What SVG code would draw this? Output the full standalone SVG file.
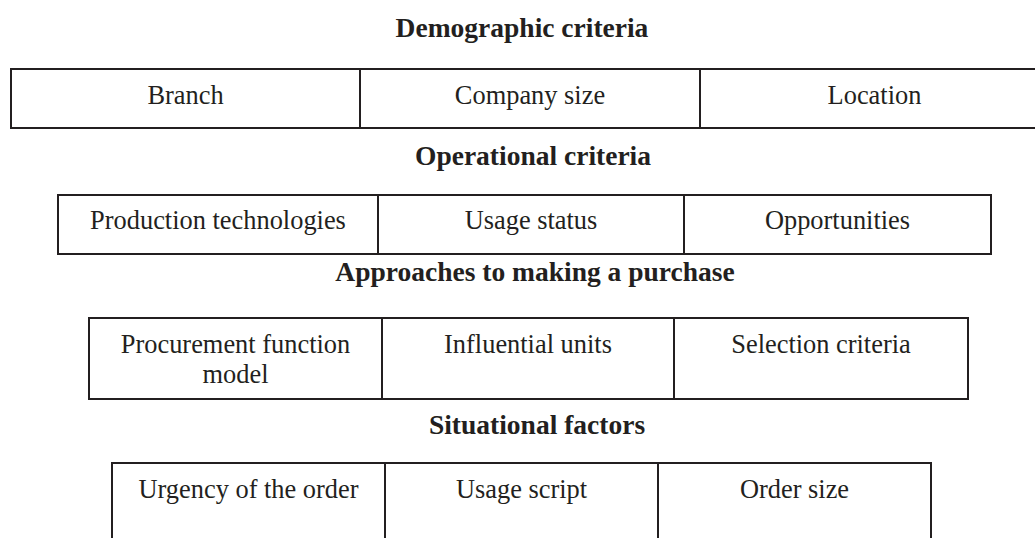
<svg xmlns="http://www.w3.org/2000/svg" width="1035" height="538" viewBox="0 0 1035 538">
  <style>
    .bg { fill: #ffffff; }
    .cell { fill: #ffffff; stroke: #231f20; stroke-width: 2; }
    .head { font-family: "Liberation Serif", "Times New Roman", serif; font-weight: bold; font-size: 27.5px; fill: #231f20; text-anchor: middle; }
    .lbl { font-family: "Liberation Serif", "Times New Roman", serif; font-size: 26.4px; fill: #231f20; text-anchor: middle; }
  </style>
  <rect class="bg" x="0" y="0" width="1035" height="538"/>

  <!-- Section headings -->
  <g id="headings">
    <text class="head" x="522" y="37">Demographic criteria</text>
    <text class="head" x="533" y="165">Operational criteria</text>
    <text class="head" x="535" y="281">Approaches to making a purchase</text>
    <text class="head" x="537" y="434">Situational factors</text>
  </g>

  <!-- Row 1: demographic criteria (open on the right) -->
  <g id="branch">
    <rect class="cell" x="11" y="69" width="349" height="59"/>
    <text class="lbl" x="185.5" y="104">Branch</text>
  </g>
  <g id="company-size">
    <rect class="cell" x="360" y="69" width="340" height="59"/>
    <text class="lbl" x="530" y="104">Company size</text>
  </g>
  <g id="location">
    <rect class="cell" x="700" y="69" width="350" height="59"/>
    <text class="lbl" x="874.5" y="104">Location</text>
  </g>

  <!-- Row 2: operational criteria -->
  <g id="production-technologies">
    <rect class="cell" x="58" y="195" width="320" height="59"/>
    <text class="lbl" x="218" y="229">Production technologies</text>
  </g>
  <g id="usage-status">
    <rect class="cell" x="378" y="195" width="306" height="59"/>
    <text class="lbl" x="531" y="229">Usage status</text>
  </g>
  <g id="opportunities">
    <rect class="cell" x="684" y="195" width="307" height="59"/>
    <text class="lbl" x="837.5" y="229">Opportunities</text>
  </g>

  <!-- Row 3: approaches to making a purchase -->
  <g id="procurement-function-model">
    <rect class="cell" x="89" y="318" width="293" height="81"/>
    <text class="lbl" x="235.5" y="353">Procurement function</text>
    <text class="lbl" x="235.5" y="383">model</text>
  </g>
  <g id="influential-units">
    <rect class="cell" x="382" y="318" width="292" height="81"/>
    <text class="lbl" x="528" y="353">Influential units</text>
  </g>
  <g id="selection-criteria">
    <rect class="cell" x="674" y="318" width="294" height="81"/>
    <text class="lbl" x="821" y="353">Selection criteria</text>
  </g>

  <!-- Row 4: situational factors (runs past the bottom edge) -->
  <g id="urgency-of-the-order">
    <rect class="cell" x="112" y="463" width="273" height="90"/>
    <text class="lbl" x="248.5" y="498">Urgency of the order</text>
  </g>
  <g id="usage-script">
    <rect class="cell" x="385" y="463" width="273" height="90"/>
    <text class="lbl" x="521.5" y="498">Usage script</text>
  </g>
  <g id="order-size">
    <rect class="cell" x="658" y="463" width="273" height="90"/>
    <text class="lbl" x="794.5" y="498">Order size</text>
  </g>

  <g id="connectors"/>
</svg>
